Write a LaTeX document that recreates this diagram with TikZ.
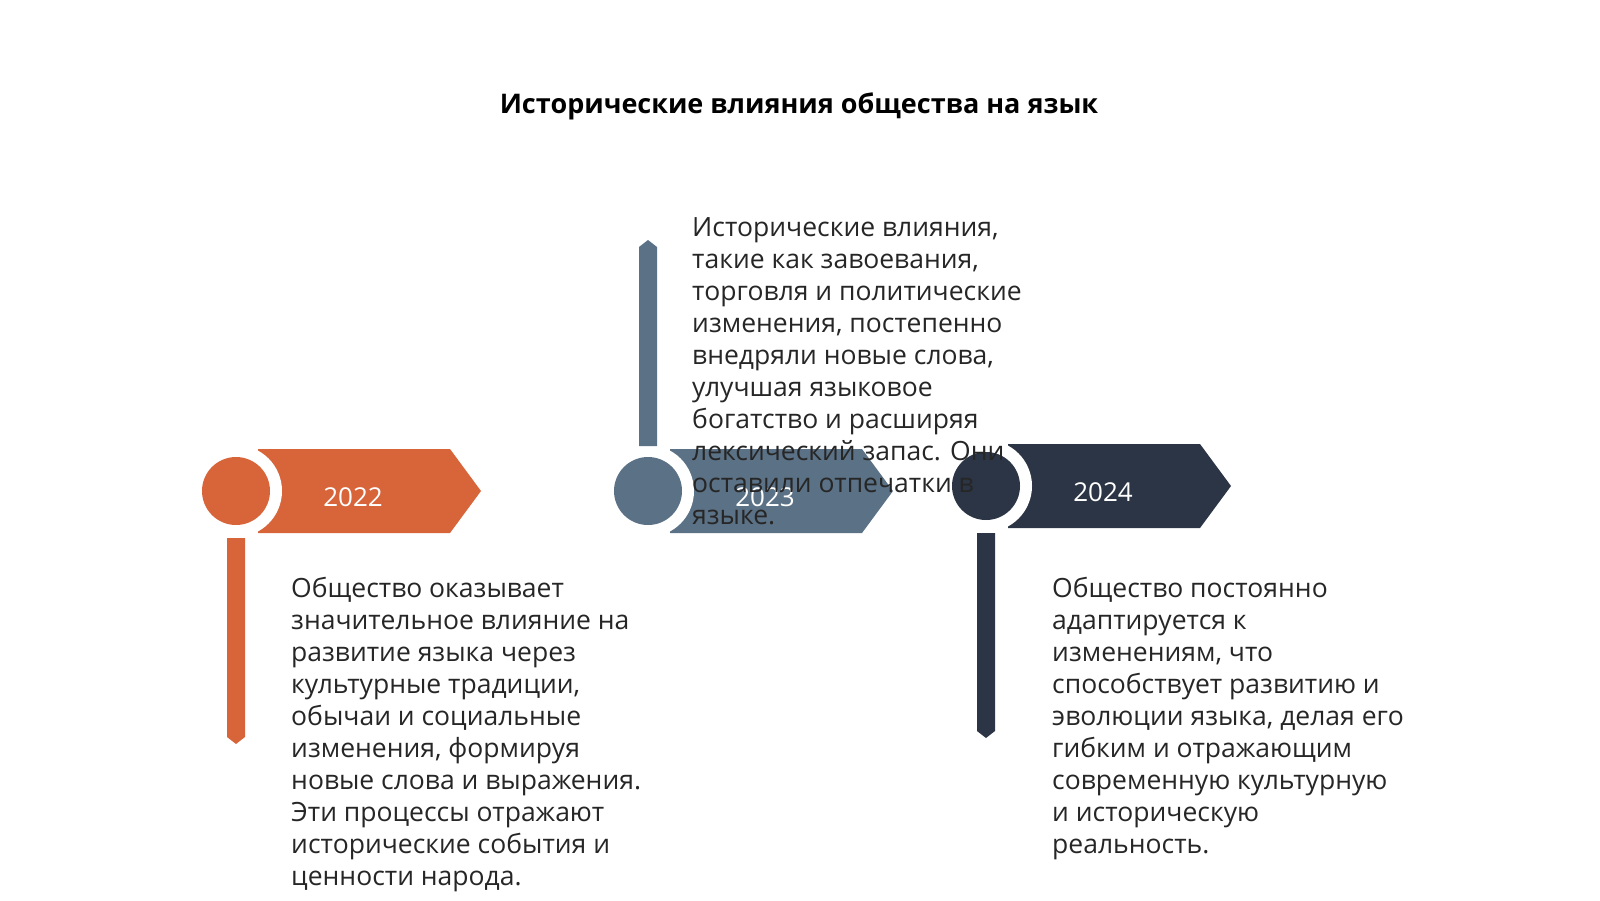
\documentclass[tikz,border=0pt]{standalone}
\usepackage{fontspec}
\setmainfont{Open Sans}
\definecolor{cA}{HTML}{D8643A}
\definecolor{cB}{HTML}{5B7185}
\definecolor{cC}{HTML}{2B3545}
\tikzset{
  body/.style={anchor=north west,align=left,font=\fontsize{26.5}{32}\selectfont,inner sep=0pt,text=black!85},
  year/.style={text=white,font=\fontsize{26}{30}\selectfont},
}
\newcommand{\milestone}[5]{% name, x, y, color, year
  \fill[#4] (#2+22,#3-42) -- (#2+214,#3-42) -- (#2+245,#3) -- (#2+214,#3+42) -- (#2+22,#3+42) -- cycle;
  \fill[white] (#2,#3) circle (46);
  \fill[#4] (#2,#3) circle (34);
  \node[year] (#1y) at (#2+117,#3+6) {#5};
}
\begin{document}
\begin{tikzpicture}[x=1pt,y=-1pt]
\useasboundingbox (0,0) rectangle (1600,900);
\node[font=\bfseries\fontsize{27}{32}\selectfont] (title) at (799,106) {Исторические влияния общества на язык};
\milestone{a}{236}{491}{cA}{2022}
\milestone{b}{648}{491}{cB}{2023}
\milestone{c}{986}{486}{cC}{2024}
\fill[cA] (227,538) -- (245,538) -- (245,737) -- (236,744) -- (227,737) -- cycle;
\fill[cB] (639,446) -- (657,446) -- (657,247) -- (648,240) -- (639,247) -- cycle;
\fill[cC] (977,533) -- (995,533) -- (995,731) -- (986,738) -- (977,731) -- cycle;
\node[body] (ta) at (291,577) {Общество оказывает\\значительное влияние на\\развитие языка через\\культурные традиции,\\обычаи и социальные\\изменения, формируя\\новые слова и выражения.\\Эти процессы отражают\\исторические события и\\ценности народа.};
\node[body] (tb) at (692,217) {Исторические влияния,\\такие как завоевания,\\торговля и политические\\изменения, постепенно\\внедряли новые слова,\\улучшая языковое\\богатство и расширяя\\лексический запас. Они\\оставили отпечатки в\\языке.};
\node[body] (tc) at (1052,577) {Общество постоянно\\адаптируется к\\изменениям, что\\способствует развитию и\\эволюции языка, делая его\\гибким и отражающим\\современную культурную\\и историческую\\реальность.};
\end{tikzpicture}
\end{document}
